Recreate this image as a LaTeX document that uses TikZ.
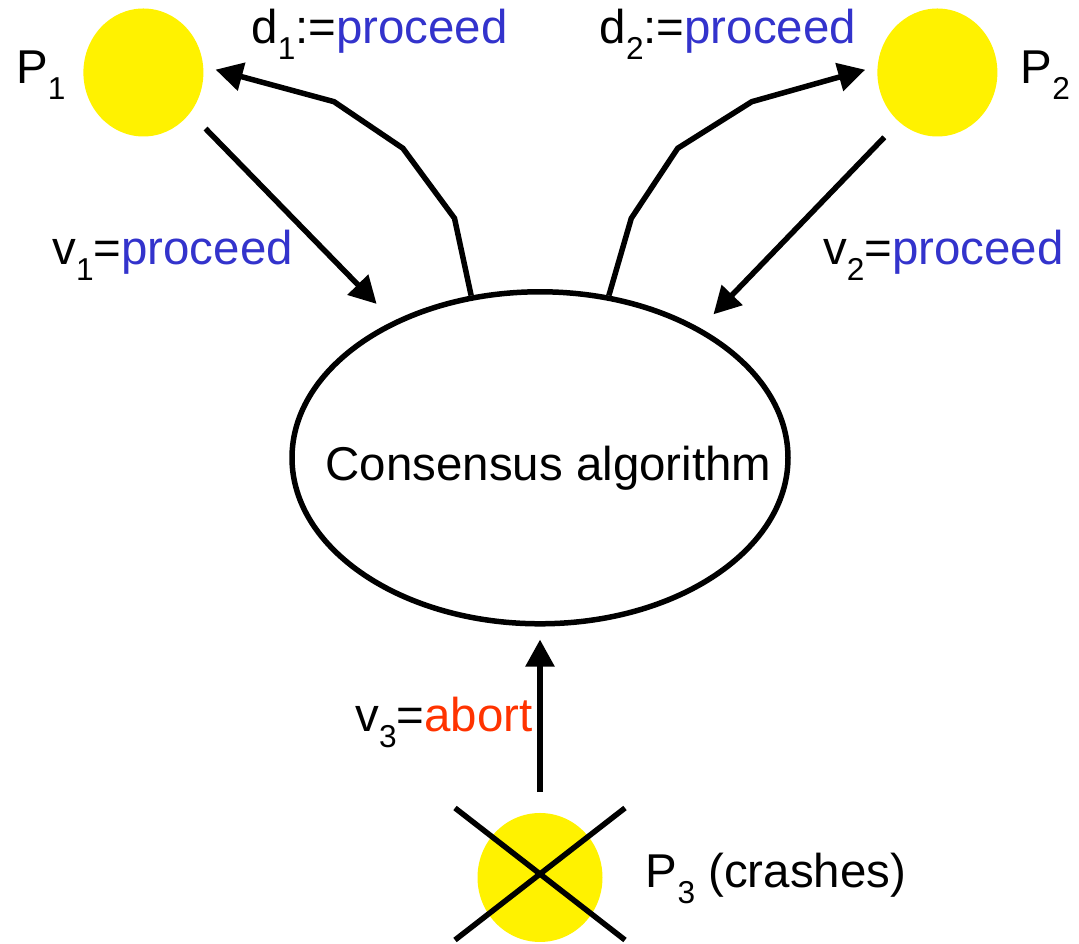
\documentclass[tikz,border=0pt]{standalone}
\usepackage{fontspec}
\setmainfont{Liberation Sans}
\usetikzlibrary{arrows.meta,shapes.geometric}
\definecolor{valblue}{RGB}{51,51,204}
\definecolor{valred}{RGB}{255,51,0}
\newcommand{\idx}[1]{\raisebox{-0.336em}{\fontsize{9}{10}\selectfont #1}}

\begin{document}
\begin{tikzpicture}[>={Triangle[length=0.27cm, width=0.28cm]}, line width=0.055cm,
  proc/.style={ellipse, fill=yellow, inner sep=0pt, minimum width=1.2cm, minimum height=1.28cm},
  txt/.style={anchor=base west, inner sep=0pt, font=\fontsize{13.5}{16}\selectfont}]
\useasboundingbox (0,0) rectangle (10.79,9.44);

\node[proc] (p1) at (1.434,8.715) {};
\node[proc] (p2) at (9.374,8.715) {};
\node[proc, minimum width=1.25cm, minimum height=1.29cm] (p3) at (5.40,0.665) {};
\node[draw, ellipse, inner sep=0pt, minimum width=4.96cm, minimum height=3.32cm,
  label={[txt, xshift=0.085cm, yshift=-0.108cm]center:Consensus algorithm}] (alg) at (5.40,4.862) {};

\node[txt] (p1lbl) at (0.134,8.607) {P\idx{1}};
\node[txt] (p2lbl) at (10.18,8.607) {P\idx{2}};
\node[txt] (p3lbl) at (6.432,0.56) {P\idx{3} (crashes)};
\node[txt] (d1lbl) at (2.487,9.007) {d\idx{1}:=\textcolor{valblue}{proceed}};
\node[txt] (d2lbl) at (5.969,9.007) {d\idx{2}:=\textcolor{valblue}{proceed}};
\node[txt] (v1lbl) at (0.496,6.79) {v\idx{1}=\textcolor{valblue}{proceed}};
\node[txt] (v2lbl) at (8.203,6.79) {v\idx{2}=\textcolor{valblue}{proceed}};
\node[txt] (v3lbl) at (3.527,2.123) {v\idx{3}=\textcolor{valred}{abort}};

\coordinate (d1a) at (4.545,7.257);
\coordinate (d1b) at (4.029,7.957);
\coordinate (d1c) at (3.34,8.423);
\coordinate (d2a) at (6.313,7.257);
\coordinate (d2b) at (6.777,7.957);
\coordinate (d2c) at (7.518,8.423);

\draw[->, shorten <=0.194cm, shorten >=0.238cm] (p1.-41.35) -- (alg.137.23);
\draw[->, shorten <=0.187cm, shorten >=0.19cm] (p2.232.31) -- (alg.39.53);
\draw[->, shorten <=0.18cm, shorten >=0.13cm] (p3.north) -- (alg.south);
\draw[->, shorten >=0.1cm] (alg.113) -- (d1a) -- (d1b) -- (d1c) -- (p1.5);
\draw[->, shorten >=0.1cm] (alg.67) -- (d2a) -- (d2b) -- (d2c) -- (p2.175);

\draw (4.55,1.36) -- (6.25,0.04);
\draw (6.25,1.36) -- (4.55,0.04);
\end{tikzpicture}
\end{document}
